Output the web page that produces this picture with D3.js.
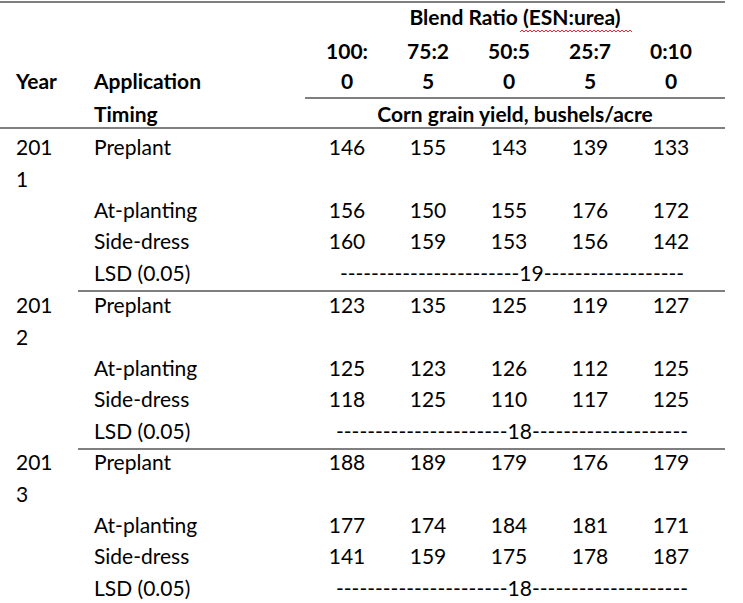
<!DOCTYPE html>
<html><head><meta charset="utf-8">
<script src="https://cdn.jsdelivr.net/npm/d3@7"></script>
<style>body{margin:0;background:#fff}text{font-family:Lato,"Open Sans",sans-serif;font-size:21px;fill:#000}</style>
</head><body><svg id="c" width="743" height="603"></svg>
<script>
const ratios = [["100:","0"],["75:2","5"],["50:5","0"],["25:7","5"],["0:10","0"]];
const years = [["201","1"],["201","2"],["201","3"]];
const timings = ["Preplant","At-planting","Side-dress"];
const yield2011 = [[146,155,143,139,133],[156,150,155,176,172],[160,159,153,156,142]];
const yield2012 = [[123,135,125,119,127],[125,123,126,112,125],[118,125,110,117,125]];
const yield2013 = [[188,189,179,176,179],[177,174,184,181,171],[141,159,175,178,187]];
const lsd = ["-----------------------19------------------","----------------------18--------------------","----------------------18--------------------"];
const yields=[yield2011,yield2012,yield2013];

const svg=d3.select("#c");
const x=d3.scalePoint().domain(d3.range(5)).range([347,671]);
const line=(x1,x2,y)=>svg.append("line").attr("x1",x1).attr("x2",x2).attr("y1",y).attr("y2",y).attr("stroke","#000").attr("stroke-width",1.2);
const t=(s,xx,y,anchor,bold)=>svg.append("text").attr("x",xx).attr("y",y).attr("dy","0.35em").attr("text-anchor",anchor||"start").style("font-weight",bold?"bold":"normal").text(s);

line(0,725,2);
t("Blend Ratio (ESN:urea)",515,18,"middle",true);
// spell-check squiggle under ESN:urea
let p="M520,32";
for(let xx=520;xx<632;xx+=4)p+=`L${xx+2},30L${xx+4},32`;
svg.append("path").attr("d",p).attr("fill","none").attr("stroke","#e03030").attr("stroke-width",1);
ratios.forEach((r,i)=>{t(r[0],x(i),52,"middle",true);t(r[1],x(i),82,"middle",true);});
t("Year",16,82,"start",true);
t("Application",94,82,"start",true);
t("Timing",94,115,"start",true);
line(305,725,98);
t("Corn grain yield, bushels/acre",515,115,"middle",true);
line(0,725,128);

const blockY=[148,306,463], step=[0,63,94,126];
years.forEach((yr,b)=>{
  const y0=blockY[b];
  t(yr[0],16,y0);t(yr[1],16,y0+32);
  timings.forEach((tm,r)=>{
    const yy=y0+step[r];
    t(tm,94,yy);
    yields[b][r].forEach((v,i)=>t(v,x(i),yy,"middle"));
  });
  t("LSD (0.05)",94,y0+step[3]);
  t(lsd[b],512,y0+step[3],"middle");
  if(b<2) line(78,725,y0+step[3]+17);
});
</script></body></html>
